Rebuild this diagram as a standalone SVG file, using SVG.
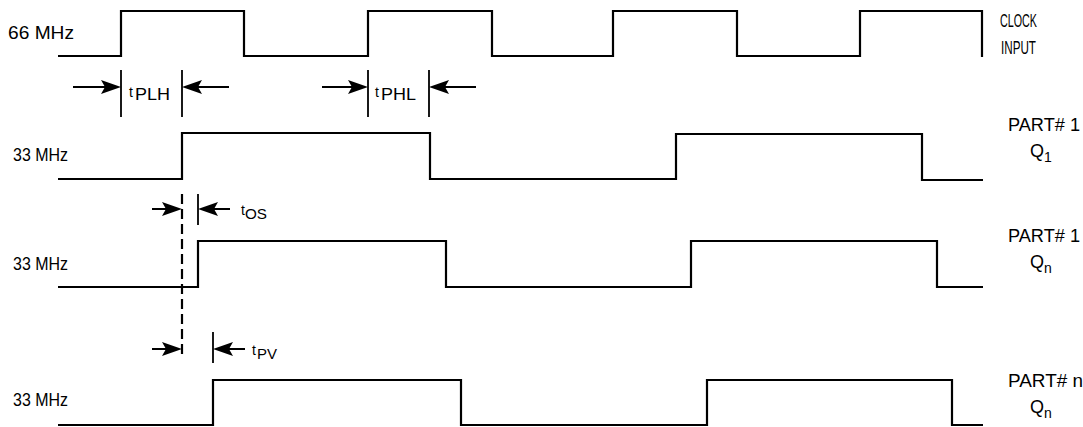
<svg xmlns="http://www.w3.org/2000/svg" width="1083" height="427" viewBox="0 0 1083 427">
<style>
.w{fill:none;stroke:#000;stroke-width:2.2;stroke-linejoin:miter}
.tk{stroke:#000;stroke-width:1.8}
.ar{stroke:#000;stroke-width:2}
.dash{stroke:#000;stroke-width:2.2;stroke-dasharray:10 5}
text{font-family:"Liberation Sans",Arial,sans-serif;fill:#000}
.lb{font-size:19px}
.lr{font-size:17px}
.lc{font-size:18px}
.sm{font-size:14px}
</style>
<defs>
<path id="ahr" d="M0,0 L-20,-7 L-16,0 L-20,7 z" fill="#000"/>
<path id="ahl" d="M0,0 L20,-7 L16,0 L20,7 z" fill="#000"/>
</defs>
<rect width="1083" height="427" fill="#fff"/>
<g id="clock">
<path class="w" d="M58,56 H121 V11 H244 V56 H368 V11 H492 V56 H613 V11 H737 V56 H860 V11 H982 V57"/>
<text class="lb" x="8" y="39" textLength="66" lengthAdjust="spacingAndGlyphs">66 MHz</text>
<text class="lc" x="1000" y="27" textLength="37" lengthAdjust="spacingAndGlyphs">CLOCK</text>
<text class="lc" x="1001" y="54" textLength="35" lengthAdjust="spacingAndGlyphs">INPUT</text>
</g>
<g id="q1">
<path class="w" d="M58,179 H182 V133 H430 V179 H676 V134 H922 V180 H983"/>
<text class="lb" x="13" y="161" textLength="55" lengthAdjust="spacingAndGlyphs">33 MHz</text>
<text class="lc" x="1008" y="131" textLength="72" lengthAdjust="spacingAndGlyphs">PART# 1</text>
<text class="lc" x="1030" y="157">Q<tspan class="sm" dy="5">1</tspan></text>
</g>
<g id="qn1">
<path class="w" d="M58,287 H198 V241 H446 V287 H691 V241 H937 V287 H983"/>
<text class="lb" x="13" y="270" textLength="55" lengthAdjust="spacingAndGlyphs">33 MHz</text>
<text class="lc" x="1008" y="242" textLength="72" lengthAdjust="spacingAndGlyphs">PART# 1</text>
<text class="lc" x="1030" y="268">Q<tspan class="sm" dy="5">n</tspan></text>
</g>
<g id="qnn">
<path class="w" d="M58,425 H213 V380 H461 V425 H707 V380 H952 V425 H983"/>
<text class="lb" x="13" y="406" textLength="55" lengthAdjust="spacingAndGlyphs">33 MHz</text>
<text class="lc" x="1008" y="387" textLength="75" lengthAdjust="spacingAndGlyphs">PART# n</text>
<text class="lc" x="1030" y="413">Q<tspan class="sm" dy="5">n</tspan></text>
</g>
<g id="tplh">
<line class="tk" x1="121" y1="70" x2="121" y2="117"/>
<line class="tk" x1="182" y1="70" x2="182" y2="117"/>
<text class="sm" x="129" y="97">t</text>
<text class="lr" x="135" y="100" textLength="35" lengthAdjust="spacingAndGlyphs">PLH</text>
</g>
<g id="tphl">
<line class="tk" x1="368" y1="70" x2="368" y2="117"/>
<line class="tk" x1="429" y1="70" x2="429" y2="117"/>
<text class="sm" x="375" y="97">t</text>
<text class="lr" x="381" y="100" textLength="35" lengthAdjust="spacingAndGlyphs">PHL</text>
</g>
<g id="tos">
<line class="tk" x1="198" y1="194" x2="198" y2="225"/>
<text class="sm" x="241" y="215">t</text>
<text class="sm" x="245" y="219" textLength="22" lengthAdjust="spacingAndGlyphs">OS</text>
</g>
<g id="tpv">
<line class="tk" x1="213" y1="332" x2="213" y2="363"/>
<text class="sm" x="252" y="355">t</text>
<text class="sm" x="257" y="359" textLength="20" lengthAdjust="spacingAndGlyphs">PV</text>
</g>
<g id="connectors">
<line class="dash" x1="182" y1="194" x2="182" y2="357"/>
<line class="ar" x1="73" y1="87" x2="105" y2="87"/><use href="#ahr" x="121" y="87"/>
<line class="ar" x1="229" y1="87" x2="198" y2="87"/><use href="#ahl" x="182" y="87"/>
<line class="ar" x1="322" y1="87" x2="352" y2="87"/><use href="#ahr" x="368" y="87"/>
<line class="ar" x1="476" y1="87" x2="445" y2="87"/><use href="#ahl" x="429" y="87"/>
<line class="ar" x1="152" y1="209" x2="166" y2="209"/><use href="#ahr" x="182" y="209"/>
<line class="ar" x1="230" y1="209" x2="214" y2="209"/><use href="#ahl" x="198" y="209"/>
<line class="ar" x1="152" y1="349" x2="166" y2="349"/><use href="#ahr" x="182" y="349"/>
<line class="ar" x1="245" y1="349" x2="229" y2="349"/><use href="#ahl" x="213" y="349"/>
</g>
</svg>
